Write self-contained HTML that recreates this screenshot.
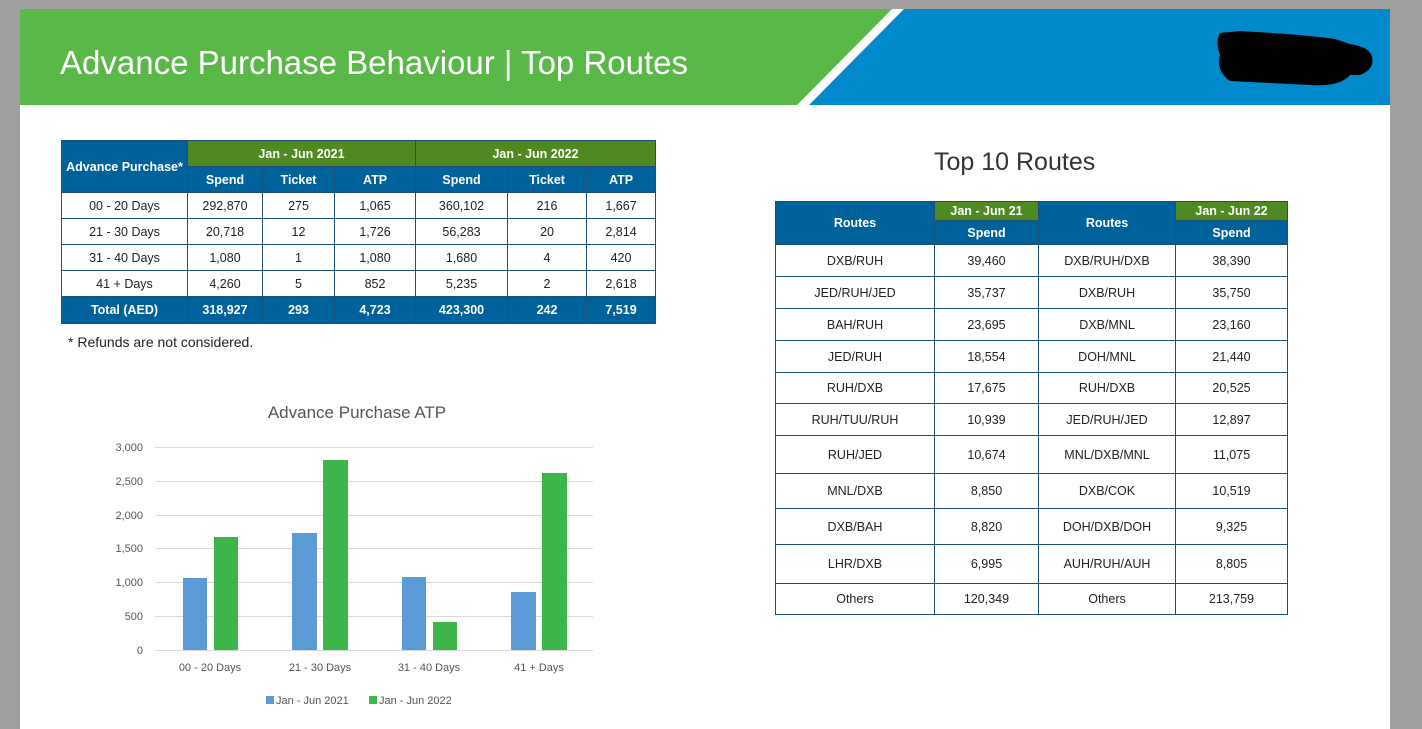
<!DOCTYPE html>
<html><head><meta charset="utf-8"><style>
*{margin:0;padding:0;box-sizing:border-box}
body{width:1422px;height:721px;background:#a0a0a0;position:relative;overflow:hidden;font-family:"Liberation Sans",sans-serif}
.page{position:absolute;left:20px;top:9px;width:1370px;height:720px;background:#fff}
.abs{position:absolute}
table{border-collapse:collapse;position:absolute;font-size:12.5px;color:#222;table-layout:fixed}
td{border:1px solid #1f4e79;text-align:center;padding:0}
.hb{background:#00629b;color:#fff;font-weight:bold}
.hg{background:#4e8a21;color:#fff;font-weight:bold}
</style></head><body>
<div class="page"></div>
<svg class="abs" style="left:20px;top:9px" width="1370" height="96">
<rect width="1370" height="96" fill="#0089cb"/>
<polygon points="0,0 872,0 777,96 0,96" fill="#5ab848"/>
<polygon points="872,0 884,0 789,96 777,96" fill="#fff"/>
<path d="M1200,24 Q1195,32 1200,46 Q1196,62 1210,72 L1290,76 Q1320,78 1330,66 L1340,66 Q1355,60 1352,48 Q1350,38 1330,35 L1315,30 Q1290,26 1220,22 Z" fill="#000"/>
<text x="40" y="65" font-size="33" fill="#fff" font-family="Liberation Sans,sans-serif">Advance Purchase Behaviour | Top Routes</text>
</svg>

<table style="left:61px;top:140px;width:594px">
<colgroup><col style="width:126px"><col style="width:75px"><col style="width:72px"><col style="width:81px"><col style="width:92px"><col style="width:79px"><col style="width:69px"></colgroup>
<tr style="height:26px"><td class="hb" rowspan="2">Advance Purchase*</td><td class="hg" colspan="3">Jan - Jun 2021</td><td class="hg" colspan="3">Jan - Jun 2022</td></tr>
<tr style="height:26px" class="hb"><td>Spend</td><td>Ticket</td><td>ATP</td><td>Spend</td><td>Ticket</td><td>ATP</td></tr>
<tr style="height:26px"><td>00 - 20 Days</td><td>292,870</td><td>275</td><td>1,065</td><td>360,102</td><td>216</td><td>1,667</td></tr>
<tr style="height:26px"><td>21 - 30 Days</td><td>20,718</td><td>12</td><td>1,726</td><td>56,283</td><td>20</td><td>2,814</td></tr>
<tr style="height:26px"><td>31 - 40 Days</td><td>1,080</td><td>1</td><td>1,080</td><td>1,680</td><td>4</td><td>420</td></tr>
<tr style="height:26px"><td>41 + Days</td><td>4,260</td><td>5</td><td>852</td><td>5,235</td><td>2</td><td>2,618</td></tr>
<tr style="height:27px" class="hb"><td>Total (AED)</td><td>318,927</td><td>293</td><td>4,723</td><td>423,300</td><td>242</td><td>7,519</td></tr>
</table>
<div class="abs" style="left:68px;top:334px;font-size:14px;color:#222">* Refunds are not considered.</div>

<div class="abs" style="left:934px;top:148px;font-size:25px;color:#333">Top 10 Routes</div>
<table style="left:775px;top:201px;width:512px;font-size:12.5px">
<colgroup><col style="width:159px"><col style="width:104px"><col style="width:137px"><col style="width:112px"></colgroup>
<tr style="height:19px"><td class="hb" rowspan="2">Routes</td><td class="hg">Jan - Jun 21</td><td class="hb" rowspan="2">Routes</td><td class="hg">Jan - Jun 22</td></tr>
<tr style="height:24px" class="hb"><td>Spend</td><td>Spend</td></tr>
<tr style="height:32px"><td>DXB/RUH</td><td>39,460</td><td>DXB/RUH/DXB</td><td>38,390</td></tr>
<tr style="height:32px"><td>JED/RUH/JED</td><td>35,737</td><td>DXB/RUH</td><td>35,750</td></tr>
<tr style="height:32px"><td>BAH/RUH</td><td>23,695</td><td>DXB/MNL</td><td>23,160</td></tr>
<tr style="height:32px"><td>JED/RUH</td><td>18,554</td><td>DOH/MNL</td><td>21,440</td></tr>
<tr style="height:31px"><td>RUH/DXB</td><td>17,675</td><td>RUH/DXB</td><td>20,525</td></tr>
<tr style="height:32px"><td>RUH/TUU/RUH</td><td>10,939</td><td>JED/RUH/JED</td><td>12,897</td></tr>
<tr style="height:38px"><td>RUH/JED</td><td>10,674</td><td>MNL/DXB/MNL</td><td>11,075</td></tr>
<tr style="height:35px"><td>MNL/DXB</td><td>8,850</td><td>DXB/COK</td><td>10,519</td></tr>
<tr style="height:36px"><td>DXB/BAH</td><td>8,820</td><td>DOH/DXB/DOH</td><td>9,325</td></tr>
<tr style="height:39px"><td>LHR/DXB</td><td>6,995</td><td>AUH/RUH/AUH</td><td>8,805</td></tr>
<tr style="height:31px"><td>Others</td><td>120,349</td><td>Others</td><td>213,759</td></tr>
</table>

<svg class="abs" style="left:0;top:390px" width="620" height="331" font-family="Liberation Sans,sans-serif">
<text x="357" y="28" font-size="17" fill="#555" text-anchor="middle">Advance Purchase ATP</text>
<g stroke="#d9d9d9" stroke-width="1">
<line x1="155" x2="593" y1="57.5" y2="57.5"/><line x1="155" x2="593" y1="91.5" y2="91.5"/>
<line x1="155" x2="593" y1="125.5" y2="125.5"/><line x1="155" x2="593" y1="158.5" y2="158.5"/>
<line x1="155" x2="593" y1="192.5" y2="192.5"/><line x1="155" x2="593" y1="226.5" y2="226.5"/>
<line x1="155" x2="593" y1="260.5" y2="260.5"/></g>
<g font-size="11" fill="#555" text-anchor="end">
<text x="143" y="61">3,000</text><text x="143" y="95">2,500</text><text x="143" y="129">2,000</text>
<text x="143" y="162">1,500</text><text x="143" y="196">1,000</text><text x="143" y="230">500</text><text x="143" y="264">0</text></g>
<g fill="#5b9bd5">
<rect x="183" y="188" width="24" height="72"/><rect x="292" y="143" width="25" height="117"/>
<rect x="402" y="187" width="24" height="73"/><rect x="511" y="202" width="25" height="58"/></g>
<g fill="#3cb54a">
<rect x="214" y="147" width="24" height="113"/><rect x="323" y="70" width="25" height="190"/>
<rect x="433" y="232" width="24" height="28"/><rect x="542" y="83" width="25" height="177"/></g>
<g font-size="11" fill="#555" text-anchor="middle">
<text x="210" y="281">00 - 20 Days</text><text x="320" y="281">21 - 30 Days</text>
<text x="429" y="281">31 - 40 Days</text><text x="539" y="281">41 + Days</text></g>
<rect x="266" y="306" width="8" height="8" fill="#5b9bd5"/>
<text x="276" y="314" font-size="11" fill="#555">Jan - Jun 2021</text>
<rect x="369" y="306" width="8" height="8" fill="#3cb54a"/>
<text x="379" y="314" font-size="11" fill="#555">Jan - Jun 2022</text>
</svg>
</body></html>
